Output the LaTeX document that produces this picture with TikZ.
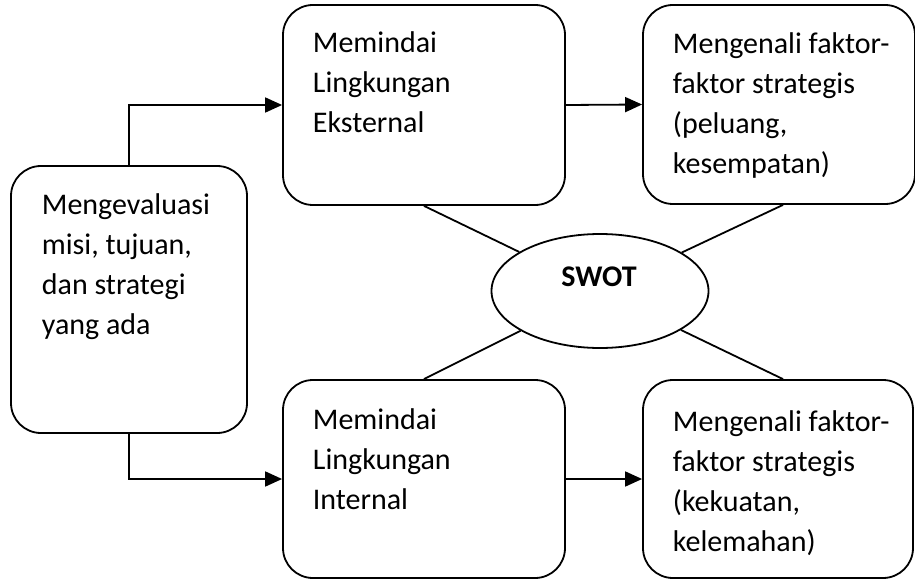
\documentclass[tikz,border=0pt]{standalone}
\usepackage{fontspec}
\setmainfont{Carlito}
\usetikzlibrary{shapes.geometric,arrows.meta}
\begin{document}
\begin{tikzpicture}[x=1pt,y=-1pt,line width=1.8pt,
  rbox/.style 2 args={draw, rounded corners=30pt, inner sep=0pt, minimum width=#1, minimum height=#2},
  txt/.style={anchor=base west, inner sep=0pt, align=left, font=\fontsize{30}{40}\selectfont},
  arr/.style={-{Triangle[length=17pt,width=15pt]}}]
\useasboundingbox (0,0) rectangle (915,580);
\node[rbox={236pt}{267pt}] (lb) at (129,299.5) {};
\node[rbox={282pt}{200pt}] (tm) at (424,105) {};
\node[rbox={272pt}{199pt}] (tr) at (779,104.5) {};
\node[rbox={282pt}{198pt}] (bm) at (424,479) {};
\node[rbox={270pt}{198pt}] (br) at (778,479) {};
\node[draw, ellipse, inner sep=0pt, minimum width=217pt, minimum height=114pt] (swot) at (600,291) {};
\node[inner sep=0pt, font=\fontsize{30}{40}\selectfont\bfseries] (swotlabel) at (599,277) {SWOT};
\node[txt] (lbt) at (41,334) {Mengevaluasi\\misi, tujuan,\\dan strategi\\yang ada};
\node[txt] (tmt) at (312,133) {Memindai\\Lingkungan\\Eksternal};
\node[txt] (trt) at (672,174) {Mengenali faktor-\\faktor strategis\\(peluang,\\kesempatan)};
\node[txt] (bmt) at (312,509) {Memindai\\Lingkungan\\Internal};
\node[txt] (brt) at (672,551) {Mengenali faktor-\\faktor strategis\\(kekuatan,\\kelemahan)};
\draw[arr] (lb.north) |- (tm.west);
\draw[arr] (lb.south) |- (bm.west);
\draw[arr] (tm.east) -- (tr.west);
\draw[arr] (bm.east) -- (br.west);
\draw (tm.south) -- (swot);
\draw ([xshift=4pt]tr.south) -- (swot);
\draw (bm.north) -- (swot);
\draw ([xshift=5pt]br.north) -- (swot);
\end{tikzpicture}
\end{document}
